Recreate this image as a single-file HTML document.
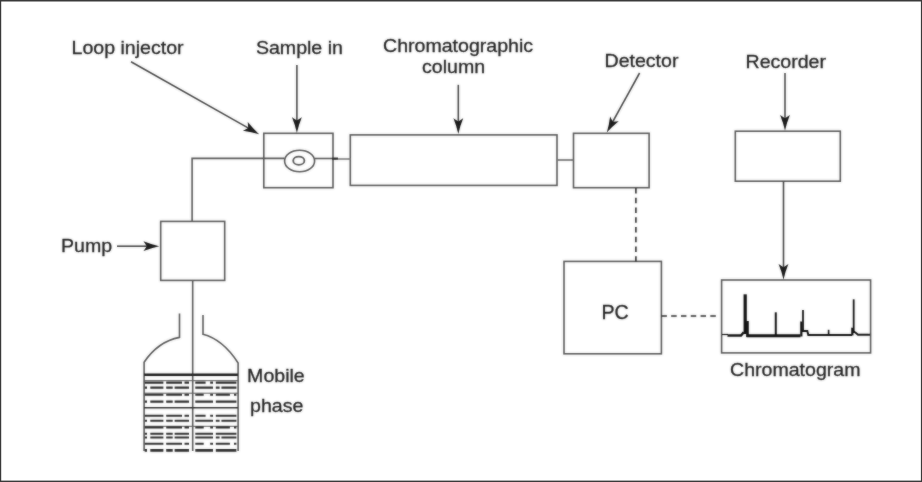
<!DOCTYPE html>
<html>
<head>
<meta charset="utf-8">
<title>HPLC block diagram</title>
<style>
html,body{margin:0;padding:0;background:#fff;}
body{width:922px;height:482px;overflow:hidden;}
svg{display:block;will-change:transform;}
text{font-family:"Liberation Sans",sans-serif;font-size:18.3px;fill:#222;stroke:#222;stroke-width:0.3;}
.ln{stroke:#555;stroke-width:1.6;fill:none;}
.bx{stroke:#555;stroke-width:1.6;fill:none;}
.ah{fill:#1a1a1a;stroke:none;}
.al{stroke:#444;stroke-width:1.6;fill:none;}
.dash{stroke:#2a2a2a;stroke-width:1.6;fill:none;stroke-dasharray:5.5 4.28;}
.tr{stroke:#111;fill:none;stroke-linejoin:miter;}
.lq{stroke:#2a2a2a;stroke-width:1.5;fill:none;}
</style>
</head>
<body>
<svg width="922" height="482" viewBox="0 0 922 482">
<defs><filter id="soft" x="0" y="0" width="922" height="482" filterUnits="userSpaceOnUse"><feGaussianBlur stdDeviation="0.8" result="b"/><feComposite in="SourceGraphic" in2="b" operator="arithmetic" k1="0" k2="0.55" k3="0.45" k4="0"/></filter></defs>
<!-- outer frame -->
<rect x="0" y="0" width="922" height="482" fill="#fff"/>
<rect x="0" y="0" width="922" height="1.500" fill="#3a3a3a"/>
<rect x="0" y="480.600" width="922" height="1.400" fill="#3a3a3a"/>
<rect x="0" y="0" width="1.200" height="482" fill="#3a3a3a"/>
<rect x="920.900" y="0" width="1.100" height="482" fill="#3a3a3a"/>

<g id="art" filter="url(#soft)">
<!-- labels -->
<text transform="translate(71.500 53.500) scale(1.07 1)">Loop injector</text>
<text transform="translate(255.900 54.400) scale(1.07 1)">Sample in</text>
<text transform="translate(383 51.500) scale(1.07 1)">Chromatographic</text>
<text transform="translate(422 72.800) scale(1.07 1)">column</text>
<text transform="translate(604.5 67) scale(1.07 1)">Detector</text>
<text transform="translate(745.500 67.700) scale(1.07 1)">Recorder</text>
<text transform="translate(61 251.700) scale(1.07 1)">Pump</text>
<text x="601.500" y="318.700" style="font-size:19.600px">PC</text>
<text transform="translate(730 375.5) scale(1.07 1)">Chromatogram</text>
<text transform="translate(247.100 382.200) scale(1.07 1)">Mobile</text>
<text transform="translate(250 412) scale(1.07 1)">phase</text>

<!-- boxes -->
<rect class="bx" x="263.8" y="133.3" width="69.2" height="54.4"/>
<rect class="bx" x="350.300" y="134.900" width="206.700" height="50.500"/>
<rect class="bx" x="573.5" y="133.3" width="75.600" height="54.400"/>
<rect class="bx" x="735.300" y="131.200" width="105" height="50"/>
<rect class="bx" x="160.700" y="221.400" width="64" height="59"/>
<rect class="bx" x="564" y="261.400" width="97.400" height="92.400"/>
<rect class="bx" x="721.600" y="280" width="149" height="72.900"/>

<!-- flow lines -->
<path class="ln" d="M192.100 221.400V158.400H284.500"/>
<path class="ln" d="M314.7 158.5 H338"/>
<path class="ln" d="M332 158.700 H338" style="stroke-width:2;stroke:#222"/>
<path class="ln" d="M338 159 H350.5" style="stroke:#777"/>
<path class="ln" d="M557.5 160 H573.5" style="stroke:#666"/>
<path class="ln" d="M192.700 280.400V451"/>
<!-- loop -->
<ellipse class="ln" cx="299.6" cy="161" rx="15" ry="10.8"/>
<ellipse class="ln" cx="298.8" cy="160.7" rx="5.6" ry="4.1" style="stroke-width:1.8"/>

<!-- arrows -->
<g id="arrows">
<defs><path id="ah" class="ah" d="M0 0Q-1.700 -8 -4.900 -15.800L0 -12.500L4.900 -15.800Q1.700 -8 0 0Z"/></defs>
<path class="al" d="M131 61.8L249.79 128.88"/>
<use href="#ah" transform="translate(259.11 134.14) rotate(-60.55)"/>
<path class="al" d="M296.9 65L296.90 122.30"/>
<use href="#ah" transform="translate(296.90 133.00) rotate(0.00)"/>
<path class="al" d="M458.3 84.8L458.30 123.40"/>
<use href="#ah" transform="translate(458.30 134.10) rotate(0.00)"/>
<path class="al" d="M639.6 73L611.92 123.24"/>
<use href="#ah" transform="translate(606.76 132.61) rotate(28.85)"/>
<path class="al" d="M785 73L785.00 120.00"/>
<use href="#ah" transform="translate(785.00 130.70) rotate(0.00)"/>
<path class="al" d="M783.5 181L783.50 269.00"/>
<use href="#ah" transform="translate(783.50 279.70) rotate(0.00)"/>
<path class="al" d="M117 246.2L148.60 246.20"/>
<use href="#ah" transform="translate(159.30 246.20) rotate(-90.00)"/>
</g>

<!-- dashed connectors -->
<path class="dash" d="M635.900 187.900 V261.400"/>
<path class="dash" d="M661.400 316 H718"/>

<!-- chromatogram trace -->
<g id="trace">
<path class="tr" style="stroke-width:1.2" d="M722 334.500 H728"/>
<path class="tr" style="stroke-width:2.500" d="M727.500 335.500 H741 L743.800 332.300"/>
<path class="tr" style="stroke-width:3.200" d="M745.200 334 V294.300"/>
<path class="tr" style="stroke-width:2.600" d="M747.500 321 V337"/>
<path class="tr" style="stroke-width:3" d="M746.500 335.800 H800.500"/>
<path class="tr" style="stroke-width:2" d="M775.800 335 V312.300"/>
<path class="tr" style="stroke-width:2.200" d="M801.300 336.500 V321.500"/>
<path class="tr" style="stroke-width:1.800" d="M803 331 V310"/>
<path class="tr" style="stroke-width:2" d="M802 331 H807.300 L808.300 335 H852"/>
<path class="tr" style="stroke-width:1.600" d="M828.600 335 V329.800"/>
<path class="tr" style="stroke-width:2.200" d="M852.300 335.500 V327.700"/>
<path class="tr" style="stroke-width:1.800" d="M853.700 333 V299.300"/>
<path class="tr" style="stroke-width:2" d="M853.700 331.500 L855.700 332.700 L858 334.700 H870"/>
</g>

<!-- bottle -->
<g id="bottle">
<path class="ln" d="M179.500 313.600V337.400Q158 341.500 144.100 362.300V451"/>
<path class="ln" d="M203 315V334.300Q223 339.500 238.100 363V451"/>
<path class="lq" style="stroke-width:2.600;stroke:#1a1a1a" d="M144 374.800 H238"/>
<path class="lq" style="stroke-width:1.600" d="M144 407.800 H238"/>
<path class="lq" style="stroke-width:1;stroke:#555" d="M144 380.700 H238 M144 393.200 H238 M144 426.300 H238"/>
<path class="lq" style="stroke-width:2.1" d="M144.7 382.6H163.4 M166.2 382.6H182 M184.5 382.6H189 M195.3 382.6H205.6 M210.2 382.6H213 M215.8 382.6H236.4"/>
<path class="lq" style="stroke-width:2.1" d="M144.7 387.6H147 M150.3 387.6H163.4 M166.2 387.6H172.7 M174.6 387.6H189 M195.3 387.6H213 M215.8 387.6H219.6 M221.4 387.6H236.4"/>
<path class="lq" style="stroke-width:2.1" d="M144.7 394.7H163.4 M166.2 394.7H182 M184.5 394.7H189 M195.3 394.7H203.7 M210.2 394.7H213 M215.8 394.7H229.9 M234 394.7H236.4"/>
<path class="lq" style="stroke-width:2.1" d="M144.7 401.6H147 M150.3 401.6H163.4 M166.2 401.6H172.7 M174.6 401.6H189 M195.3 401.6H213 M215.8 401.6H236.4"/>
<path class="lq" style="stroke-width:2.1" d="M144.7 415.7H163.4 M166.2 415.7H182 M184.5 415.7H189 M195.3 415.7H205.6 M210.2 415.7H213 M215.8 415.7H236.4"/>
<path class="lq" style="stroke-width:2.1" d="M144.7 420.7H147 M150.3 420.7H163.4 M166.2 420.7H172.7 M174.6 420.7H189 M195.3 420.7H213 M215.8 420.7H219.6 M221.4 420.7H236.4"/>
<path class="lq" style="stroke-width:2.1" d="M144.7 427.4H163.4 M166.2 427.4H182 M184.5 427.4H189 M195.3 427.4H203.7 M210.2 427.4H213 M215.8 427.4H229.9 M234 427.4H236.4"/>
<path class="lq" style="stroke-width:2.1" d="M144.7 433.8H147 M150.3 433.8H163.4 M166.2 433.8H172.7 M174.6 433.8H189 M195.3 433.8H213 M215.8 433.8H236.4"/>
<path class="lq" style="stroke-width:2.1" d="M144.7 437.5H147 M150.3 437.5H163.4 M166.2 437.5H172.7 M174.6 437.5H189 M195.3 437.5H213 M215.8 437.5H219.6 M221.4 437.5H236.4"/>
<path class="lq" style="stroke-width:2.1" d="M144.7 443.7H163.4 M166.2 443.7H182 M184.5 443.7H189 M195.3 443.7H203.7 M210.2 443.7H213 M215.8 443.7H229.9 M234 443.7H236.4"/>
<path class="lq" style="stroke-width:2.6" d="M144.7 450.4H147 M150.3 450.4H163.4 M166.2 450.4H172.7 M174.6 450.4H189 M195.3 450.4H213 M215.8 450.4H236.4"/>
</g>
</g>
</svg>
</body>
</html>
